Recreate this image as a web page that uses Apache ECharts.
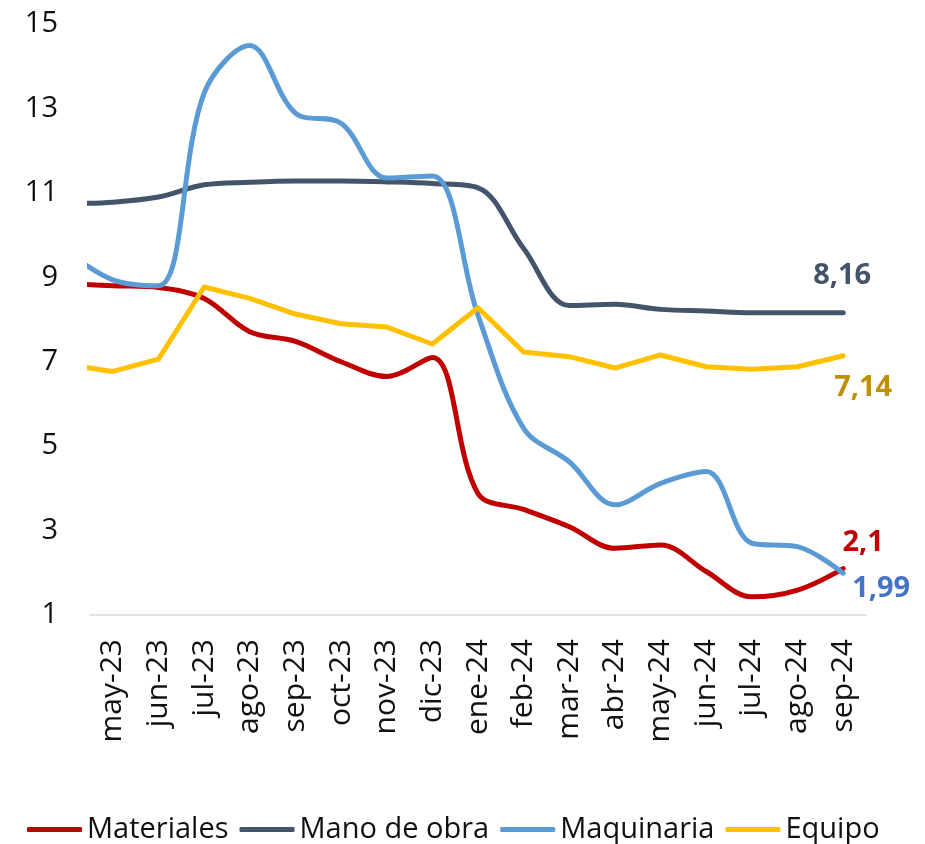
<!DOCTYPE html>
<html>
<head>
<meta charset="utf-8">
<script src="https://cdn.jsdelivr.net/npm/echarts@6/dist/echarts.min.js"></script>
<style>
  html, body { margin: 0; padding: 0; background: #fff; }
  #chart { width: 925px; height: 844px; }
</style>
</head>
<body>
<div id="chart"></div>
<script>
// abr-23 solo sirve para que las curvas entren por el borde izquierdo (queda fuera del eje)
const months = ['abr-23', 'may-23', 'jun-23', 'jul-23', 'ago-23', 'sep-23', 'oct-23', 'nov-23', 'dic-23',
  'ene-24', 'feb-24', 'mar-24', 'abr-24', 'may-24', 'jun-24', 'jul-24', 'ago-24', 'sep-24'];

const materiales = [8.85, 8.80, 8.76, 8.50, 7.71, 7.48, 7.00, 6.65, 7.10,
  3.88, 3.50, 3.09, 2.58, 2.66, 2.03, 1.43, 1.59, 2.10];
const manoDeObra = [10.74, 10.78, 10.90, 11.19, 11.25, 11.28, 11.28, 11.26, 11.22,
  11.12, 9.68, 8.33, 8.36, 8.24, 8.20, 8.16, 8.16, 8.16];
const maquinaria = [9.60, 8.94, 8.80, 13.36, 14.49, 12.89, 12.65, 11.35, 11.40,
  8.10, 5.42, 4.63, 3.61, 4.12, 4.40, 2.70, 2.62, 1.99];
const equipo = [6.93, 6.77, 7.06, 8.77, 8.50, 8.13, 7.90, 7.82, 7.42,
  8.28, 7.23, 7.12, 6.85, 7.16, 6.88, 6.82, 6.88, 7.14];

const endLabels = ['2,1', '8,16', '1,99', '7,14'];

const FONT = '"Open Sans", "Noto Sans", sans-serif';

// etiqueta solo en el último punto
const withEndLabel = (values, text, color, offset) => values.map((v, i) => {
  if (i !== values.length - 1) return v;
  return {
    value: v,
    label: {
      show: true,
      position: 'inside',
      offset: offset,
      formatter: text,
      color: color,
      fontFamily: FONT,
      fontSize: 29,
      fontWeight: 'bold'
    }
  };
});

const makeSeries = (name, values, color, smooth, text, textColor, offset) => ({
  name: name,
  type: 'line',
  data: withEndLabel(values, text, textColor, offset),
  smooth: smooth,
  symbol: 'circle',
  symbolSize: 0,
  showSymbol: true,
  clip: true,
  lineStyle: { color: color, width: 5, cap: 'round', join: 'round' },
  itemStyle: { color: color },
  emphasis: { disabled: true }
});

const chart = echarts.init(document.getElementById('chart'));

chart.setOption({
  animation: false,
  grid: { left: 90, right: 59, top: 24, bottom: 229, containLabel: false },
  legend: {
    top: 810,
    left: 22,
    icon: 'roundRect',
    itemWidth: 55,
    itemHeight: 5,
    itemGap: 11,
    textStyle: { fontFamily: FONT, fontSize: 29, color: '#111' },
    data: ['Materiales', 'Mano de obra', 'Maquinaria', 'Equipo']
  },
  xAxis: {
    type: 'category',
    data: months,
    min: 1,
    boundaryGap: true,
    axisLine: { show: true, lineStyle: { color: '#d9d9d9', width: 1.5 } },
    axisTick: { show: false },
    axisLabel: {
      rotate: 90,
      interval: 0,
      margin: 24,
      fontFamily: FONT,
      fontSize: 30,
      color: '#111'
    },
    splitLine: { show: false }
  },
  yAxis: {
    type: 'value',
    min: 1,
    max: 15,
    interval: 2,
    axisLine: { show: false },
    axisTick: { show: false },
    splitLine: { show: false },
    axisLabel: { margin: 32, fontFamily: FONT, fontSize: 29, color: '#111' }
  },
  series: [
    makeSeries('Materiales', materiales, '#c00000', 0.35, endLabels[0], '#c00000', [20, -26]),
    makeSeries('Mano de obra', manoDeObra, '#44546a', 0.35, endLabels[1], '#44546a', [-1, -37]),
    makeSeries('Maquinaria', maquinaria, '#5b9bd5', 0.35, endLabels[2], '#4472c4', [38, 16]),
    makeSeries('Equipo', equipo, '#ffc000', false, endLabels[3], '#bf9000', [20, 32])
  ]
});
</script>
</body>
</html>
